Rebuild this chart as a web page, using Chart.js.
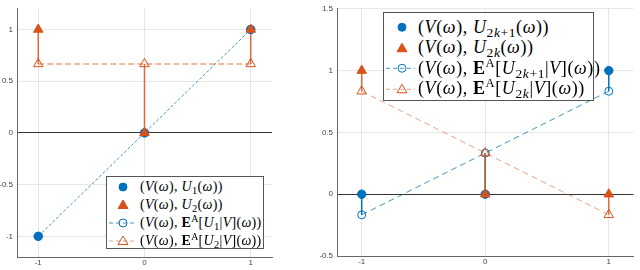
<!DOCTYPE html>
<html>
<head>
<meta charset="utf-8">
<script src="https://cdn.jsdelivr.net/npm/chart.js@4"></script>
<style>
  body { margin: 0; background: #fff; }
  #wrap { position: relative; width: 640px; height: 270px; }
  .pane { position: absolute; top: 0; width: 320px; height: 270px; }
  .legend { position: absolute; background: #fff; border: 1px solid #555; box-sizing: border-box;
            font-family: "Liberation Serif", serif; color: #000; }
  .legend .row { display: flex; align-items: center; white-space: nowrap; }
  .legend svg { flex: none; }
  .legend sub { font-size: 75%; vertical-align: -0.3em; line-height: 0; }
  .legend sup { font-size: 70%; vertical-align: 0.55em; line-height: 0; }
</style>
</head>
<body>
<div id="wrap">
  <div class="pane" style="left:0"><canvas id="left" width="320" height="270"></canvas></div>
  <div class="pane" style="left:320px"><canvas id="right" width="320" height="270"></canvas></div>
  <div class="legend" id="legLeft" style="left:106px;top:176px;width:158px;height:73px;font-size:14px;letter-spacing:0.3px;padding-top:1px"></div>
  <div class="legend" id="legRight" style="left:383px;top:12px;width:211px;height:89px;font-size:18px;letter-spacing:0.6px;padding-top:4px"></div>
</div>
<script>
// values of V(omega)
const xValues = [-1, 0, 1];
const xTicks = [-1, 0, 1];

// left panel
const leftU1 = [-1, 0, 1];
const leftU2 = [1, 0, 1];
const leftEU1 = [-1, 0, 1];
const leftEU2 = [0.667, 0.667, 0.667];
const leftYTicks = [-1, -0.5, 0, 0.5, 1];
const leftLabels = [
  '(<i>V</i>(<i>ω</i>), <i>U</i><sub>1</sub>(<i>ω</i>))',
  '(<i>V</i>(<i>ω</i>), <i>U</i><sub>2</sub>(<i>ω</i>))',
  '(<i>V</i>(<i>ω</i>), <b>E</b><sup>A</sup>[<i>U</i><sub>1</sub>|<i>V</i>](<i>ω</i>))',
  '(<i>V</i>(<i>ω</i>), <b>E</b><sup>A</sup>[<i>U</i><sub>2</sub>|<i>V</i>](<i>ω</i>))'
];

// right panel
const rightU1 = [0, 0, 1];
const rightU2 = [1, 0, 0];
const rightEU1 = [-0.167, 0.333, 0.833];
const rightEU2 = [0.833, 0.333, -0.167];
const rightYTicks = [-0.5, 0, 0.5, 1, 1.5];
const rightLabels = [
  '(<i>V</i>(<i>ω</i>), <i>U</i><sub>2<i>k</i>+1</sub>(<i>ω</i>))',
  '(<i>V</i>(<i>ω</i>), <i>U</i><sub>2<i>k</i></sub>(<i>ω</i>))',
  '(<i>V</i>(<i>ω</i>), <b>E</b><sup>A</sup>[<i>U</i><sub>2<i>k</i>+1</sub>|<i>V</i>](<i>ω</i>))',
  '(<i>V</i>(<i>ω</i>), <b>E</b><sup>A</sup>[<i>U</i><sub>2<i>k</i></sub>|<i>V</i>](<i>ω</i>))'
];

const BLUE = '#0072BD';
const ORANGE = '#D95319';
const BLUE_LIGHT = 'rgba(0,114,189,0.75)';
const ORANGE_LIGHT = 'rgba(217,83,25,0.55)';

function pts(ys) {
  return xValues.map((x, i) => ({x: x, y: ys[i]}));
}

function stems(us, es) {
  let out = [];
  xValues.forEach((x, i) => {
    out.push({x: x, y: us[i]}, {x: x, y: es[i]}, {x: x, y: null});
  });
  return out;
}

function makeDatasets(u1, u2, e1, e2, dash1, dash2, w2) {
  return [
    {data: pts(e1), showLine: true, borderColor: BLUE_LIGHT, borderWidth: 1, borderDash: dash1,
     pointStyle: 'circle', pointRadius: 4, pointBorderColor: BLUE, pointBorderWidth: 1,
     pointBackgroundColor: 'rgba(0,0,0,0)', order: 6},
    {data: pts(e2), showLine: true, borderColor: ORANGE_LIGHT, borderWidth: w2, borderDash: dash2,
     pointStyle: 'triangle', pointRadius: 5.5, pointBorderColor: ORANGE, pointBorderWidth: 1,
     pointBackgroundColor: 'rgba(0,0,0,0)', order: 5},
    {data: stems(u1, e1), showLine: true, borderColor: BLUE, borderWidth: 1.5, pointRadius: 0, order: 4},
    {data: stems(u2, e2), showLine: true, borderColor: 'rgba(217,83,25,0.85)', borderWidth: 1.5, pointRadius: 0, order: 3},
    {data: pts(u1), showLine: false, pointStyle: 'circle', pointRadius: 4.2,
     pointBackgroundColor: BLUE, pointBorderColor: BLUE, order: 2},
    {data: pts(u2), showLine: false, pointStyle: 'triangle', pointRadius: 5.5,
     pointBackgroundColor: ORANGE, pointBorderColor: ORANGE, order: 1}
  ];
}

function makeScales(ymin, ymax, yTicks) {
  const tickFont = {family: 'Liberation Sans, Arial, sans-serif', size: 8};
  return {
    x: {
      type: 'linear', min: -1.2, max: 1.2,
      afterBuildTicks: s => { s.ticks = xTicks.map(v => ({value: v})); },
      afterFit: s => { s.height = 13; },
      grid: {color: '#e6e6e6', drawTicks: false},
      border: {color: '#666'},
      ticks: {font: tickFont, color: '#444', padding: 1, callback: v => String(v)}
    },
    y: {
      type: 'linear', min: ymin, max: ymax,
      afterBuildTicks: s => { s.ticks = yTicks.map(v => ({value: v})); },
      afterFit: s => { s.width = 17; },
      grid: {color: c => (c.tick && c.tick.value === 0 ? '#333' : '#e6e6e6'), drawTicks: false},
      border: {color: '#666'},
      ticks: {font: tickFont, color: '#444', padding: 4, callback: v => String(v)}
    }
  };
}

function makeChart(id, datasets, scales, padding) {
  return new Chart(document.getElementById(id), {
    type: 'scatter',
    data: {datasets: datasets},
    options: {
      responsive: false,
      animation: false,
      devicePixelRatio: 1,
      layout: {padding: padding},
      plugins: {legend: {display: false}, tooltip: {enabled: false}},
      scales: scales
    }
  });
}

makeChart('left',
  makeDatasets(leftU1, leftU2, leftEU1, leftEU2, [3, 2], [6, 3], 1.5),
  makeScales(-1.2, 1.2, leftYTicks),
  {top: 2, right: 48, bottom: 0, left: 0});

makeChart('right',
  makeDatasets(rightU1, rightU2, rightEU1, rightEU2, [6, 4], [6, 4], 1),
  makeScales(-0.5, 1.5, rightYTicks),
  {top: 5, right: 3, bottom: 1, left: 0});

// html legend, so the math labels can keep sub/superscripts
const legendStyles = [
  {color: BLUE, marker: 'circle', filled: true, line: null},
  {color: ORANGE, marker: 'triangle', filled: true, line: null},
  {color: BLUE, marker: 'circle', filled: false, line: BLUE_LIGHT},
  {color: ORANGE, marker: 'triangle', filled: false, line: ORANGE_LIGHT}
];

function markerSvg(st, h, w, cx) {
  const cy = h / 2;
  let s = '<svg width="' + w + '" height="' + h + '">';
  if (st.line) {
    s += '<line x1="2" x2="' + (w - 2) + '" y1="' + cy + '" y2="' + cy + '" stroke="' + st.line +
         '" stroke-width="1" stroke-dasharray="4 3"/>';
  }
  const fill = st.filled ? st.color : 'none';
  if (st.marker === 'circle') {
    s += '<circle cx="' + cx + '" cy="' + cy + '" r="4" fill="' + fill + '" stroke="' + st.color + '"/>';
  } else {
    const p = [[cx, cy - 5], [cx + 5, cy + 3.5], [cx - 5, cy + 3.5]].map(q => q.join(',')).join(' ');
    s += '<polygon points="' + p + '" fill="' + fill + '" stroke="' + st.color + '"/>';
  }
  return s + '</svg>';
}

function buildLegend(id, labels, rowH, w, cx, gap) {
  const el = document.getElementById(id);
  labels.forEach((lab, i) => {
    const row = document.createElement('div');
    row.className = 'row';
    row.style.height = rowH + 'px';
    row.innerHTML = markerSvg(legendStyles[i], rowH, w, cx) +
      '<span style="margin-left:' + gap + 'px">' + lab + '</span>';
    el.appendChild(row);
  });
}

buildLegend('legLeft', leftLabels, 18, 32, 16, 1);
buildLegend('legRight', rightLabels, 20.5, 33, 18, 1);
</script>
</body>
</html>
